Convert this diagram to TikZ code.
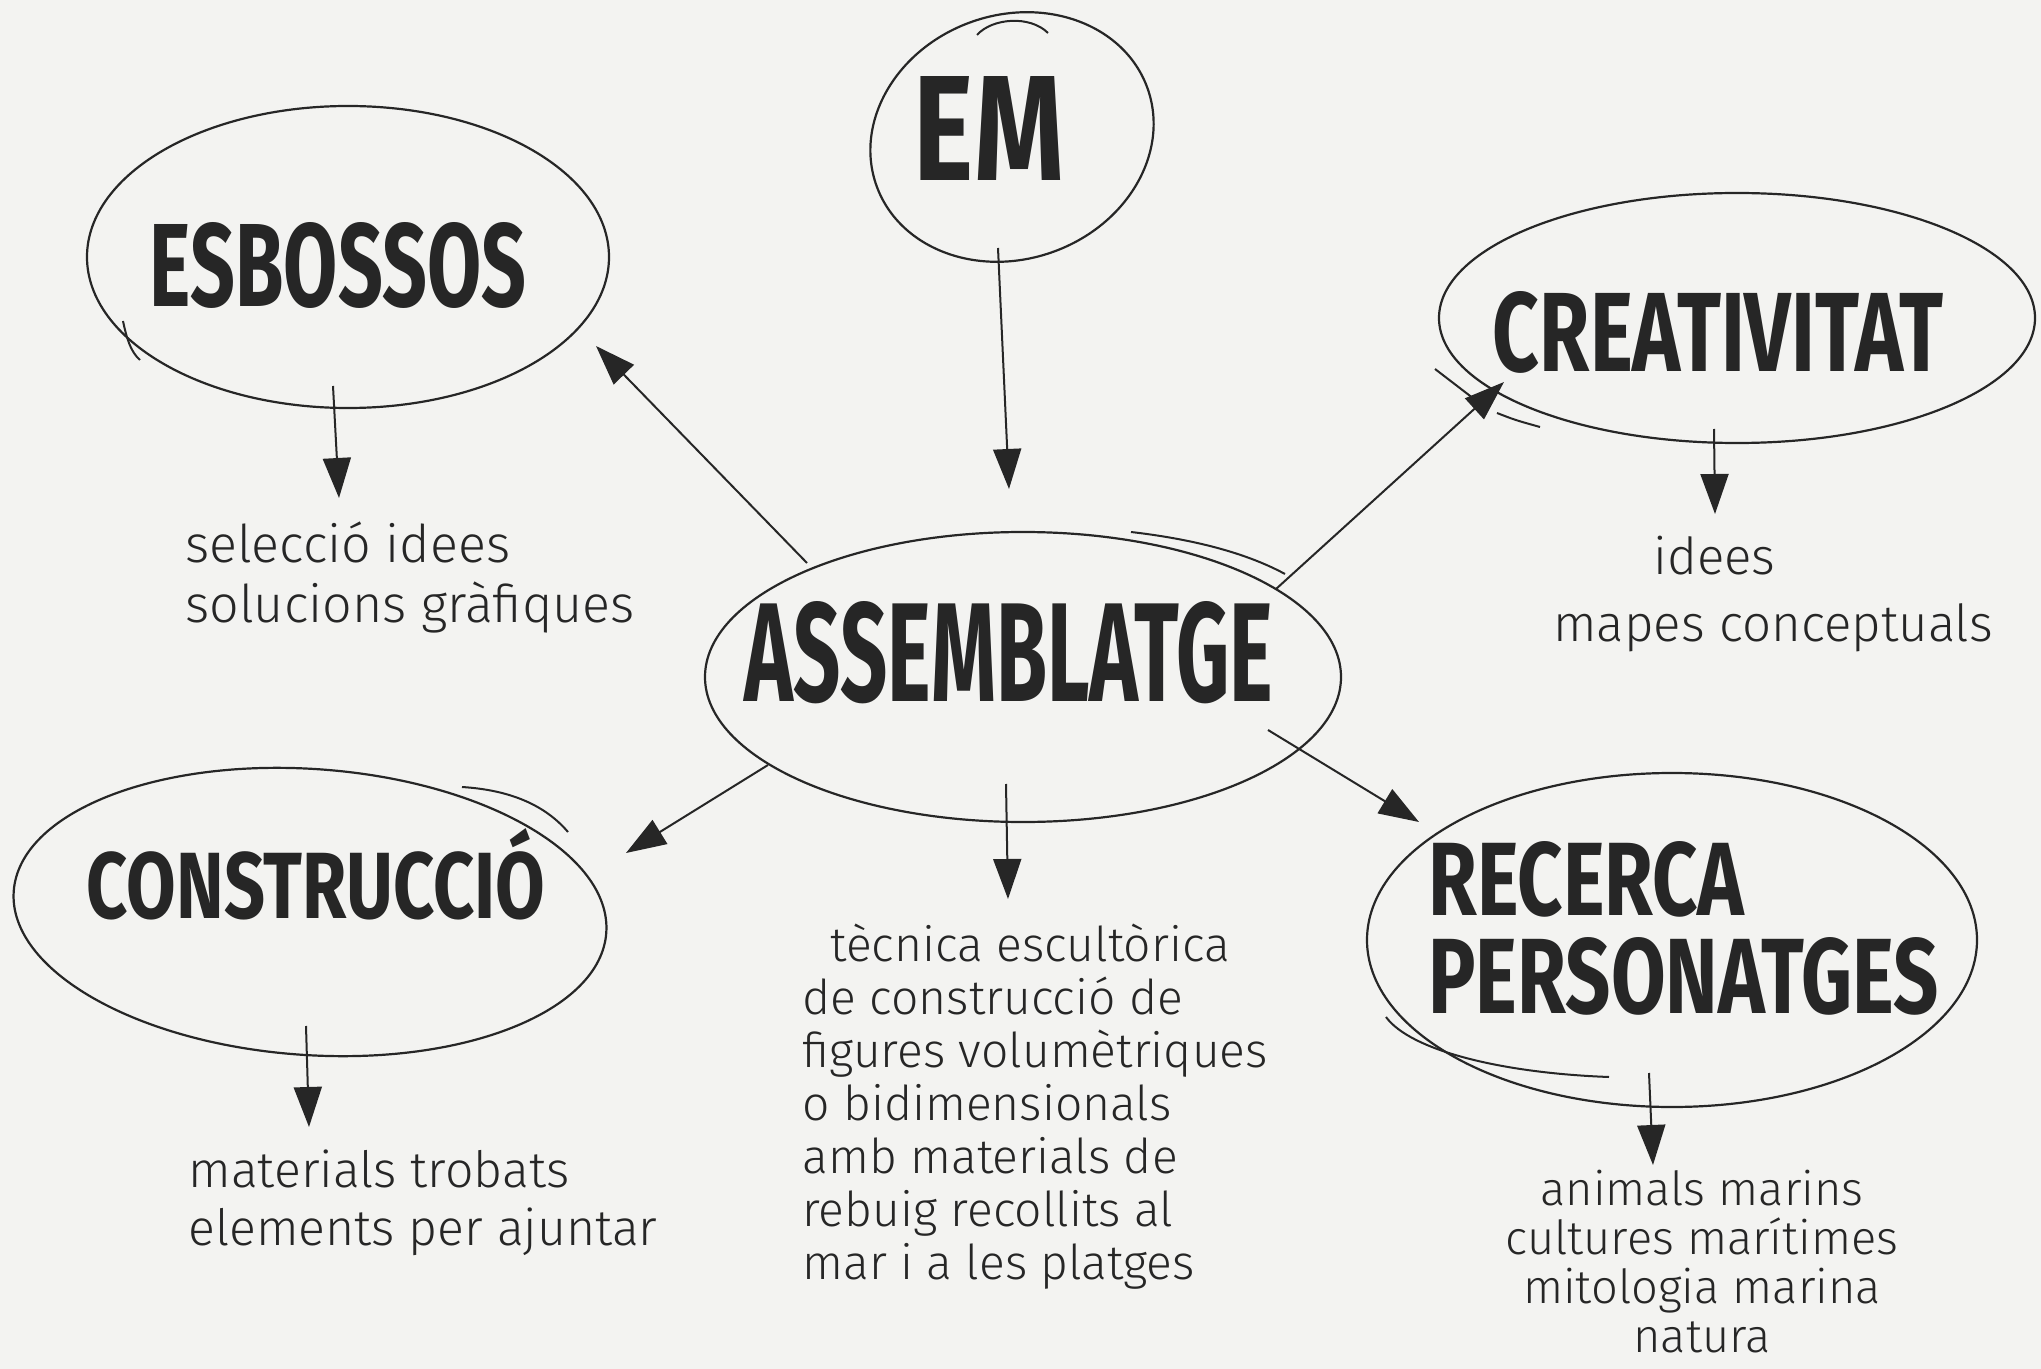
\documentclass[tikz,border=0pt]{standalone}
\usepackage{fontspec}
\usepackage{graphicx}
\usetikzlibrary{arrows.meta,calc,shapes.geometric}
\setmainfont{Fira Sans}
\newfontfamily\headfont{Fira Sans}
\newfontfamily\handfont{Fira Sans Light}
\definecolor{paper}{RGB}{243,243,241}
\definecolor{ink}{RGB}{38,38,38}
\newcommand\hd[3]{\resizebox{#1}{#2}{\headfont\bfseries #3}}
\tikzset{
  bubble/.style={draw=ink, line width=1.1pt, ellipse, inner sep=0pt},
  arr/.style={draw=ink, line width=1pt, -{Triangle[length=20pt,width=14pt]}},
  hand/.style={text=ink, inner sep=0pt, align=left, font=\handfont},
  head/.style={text=ink, inner sep=0pt},
  extra/.style={draw=ink, line width=1pt}
}
\begin{document}
\begin{tikzpicture}[x=0.5pt,y=-0.5pt]
\useasboundingbox (0,0) rectangle (2041,1369);
\fill[paper] (0,0) rectangle (2041,1369);

% ellipses
\node[bubble, minimum width=144pt, minimum height=122pt, rotate=20] (em) at (1012,137) {};
\node[bubble, minimum width=261pt, minimum height=151pt] (esb) at (348,257) {};
\node[bubble, minimum width=298pt, minimum height=125pt] (crea) at (1737,318) {};
\node[bubble, minimum width=318pt, minimum height=145pt] (assem) at (1023,677) {};
\node[bubble, minimum width=297pt, minimum height=143pt, rotate=-4] (cons) at (310,912) {};
\node[bubble, minimum width=305pt, minimum height=167pt] (rec) at (1672,940) {};

% extra hand strokes
\draw[extra] (977,35) .. controls (992,18) and (1030,15) .. (1048,33);
\draw[extra] (123,321) .. controls (127,340) and (131,352) .. (140,360);
\draw[extra] (1435,369) -- (1478,402);
\draw[extra] (1497,413) .. controls (1515,420) .. (1540,427);
\draw[extra] (1131,532) .. controls (1200,540) and (1250,555) .. (1285,574);
\draw[extra] (462,787) .. controls (510,790) and (545,805) .. (568,832);
\draw[extra] (1386,1017) .. controls (1410,1050) and (1500,1073) .. (1609,1077);

% headings
\node[head] (emT) at (989,129) {\hd{75pt}{52pt}{EM}};
\node[head] (esbT) at (338,265) {\hd{188pt}{42pt}{ESBOSSOS}};
\node[head] (creaT) at (1718,332) {\hd{225pt}{40pt}{CREATIVITAT}};
\node[head] (assemT) at (1009,653) {\hd{264pt}{50pt}{ASSEMBLATGE}};
\node[head] (consT) at (316,874) {\hd{229pt}{45pt}{CONSTRUCCIÓ}};
\node[head, anchor=north west, align=left, font=\fontsize{20pt}{49pt}\selectfont] (recT) at (1428,841)
  {\hd{158pt}{37pt}{RECERCA}\\\hd{255pt}{38pt}{PERSONATGES}};

% small texts (base anchor = baseline of the last line)
\node[hand, anchor=base west, font=\handfont\fontsize{26pt}{30pt}\selectfont] (sel) at (185,623)
  {selecció idees\\solucions gràfiques};
\node[hand, anchor=base west, font=\handfont\fontsize{25.5pt}{33.5pt}\selectfont] (idees) at (1553,641)
  {\hspace*{50pt}idees\\mapes conceptuals};
\node[hand, anchor=base west, font=\handfont\fontsize{25pt}{29pt}\selectfont] (mat) at (188,1245)
  {materials trobats\\elements per ajuntar};
\node[hand, anchor=base west, font=\handfont\fontsize{24pt}{26.5pt}\selectfont] (tec) at (802,1279)
  {\hspace*{14pt}tècnica escultòrica\\de construcció de\\figures volumètriques\\o bidimensionals\\amb materials de\\rebuig recollits al\\mar i a les platges};
\node[hand, anchor=base, align=center, font=\handfont\fontsize{23.5pt}{24.5pt}\selectfont] (anim) at (1702,1352)
  {animals marins\\cultures marítimes\\mitologia marina\\natura};

% arrow tips at text blocks
\coordinate (selTip) at (339,498);
\coordinate (ideesTip) at (1715,514);
\coordinate (matTip) at (309,1127);
\coordinate (animTip) at (1653,1165);
\coordinate (tecTip) at (1008,899);

% connectors
\draw[arr] ($(em)+(-14,111)$) -- ($(assem)+(-14,-188)$);
\draw[arr] ($(assem)+(-216,-114)$) -- ($(esb)+(248,89)$);
\draw[arr] ($(assem)+(253,-88)$) -- ($(crea)+(-233,64)$);
\draw[arr] ($(assem)+(245,53)$) -- ($(rec)+(-253,-118)$);
\draw[arr] ($(assem)+(-255,88)$) -- ($(cons)+(316,-59)$);
\draw[arr] ($(assem)+(-17,107)$) -- (tecTip);
\draw[arr] ($(esb)+(-15,129)$) -- (selTip);
\draw[arr] ($(crea)+(-23,111)$) -- (ideesTip);
\draw[arr] ($(cons)+(-4,114)$) -- (matTip);
\draw[arr] ($(rec)+(-23,133)$) -- (animTip);
\end{tikzpicture}
\end{document}
